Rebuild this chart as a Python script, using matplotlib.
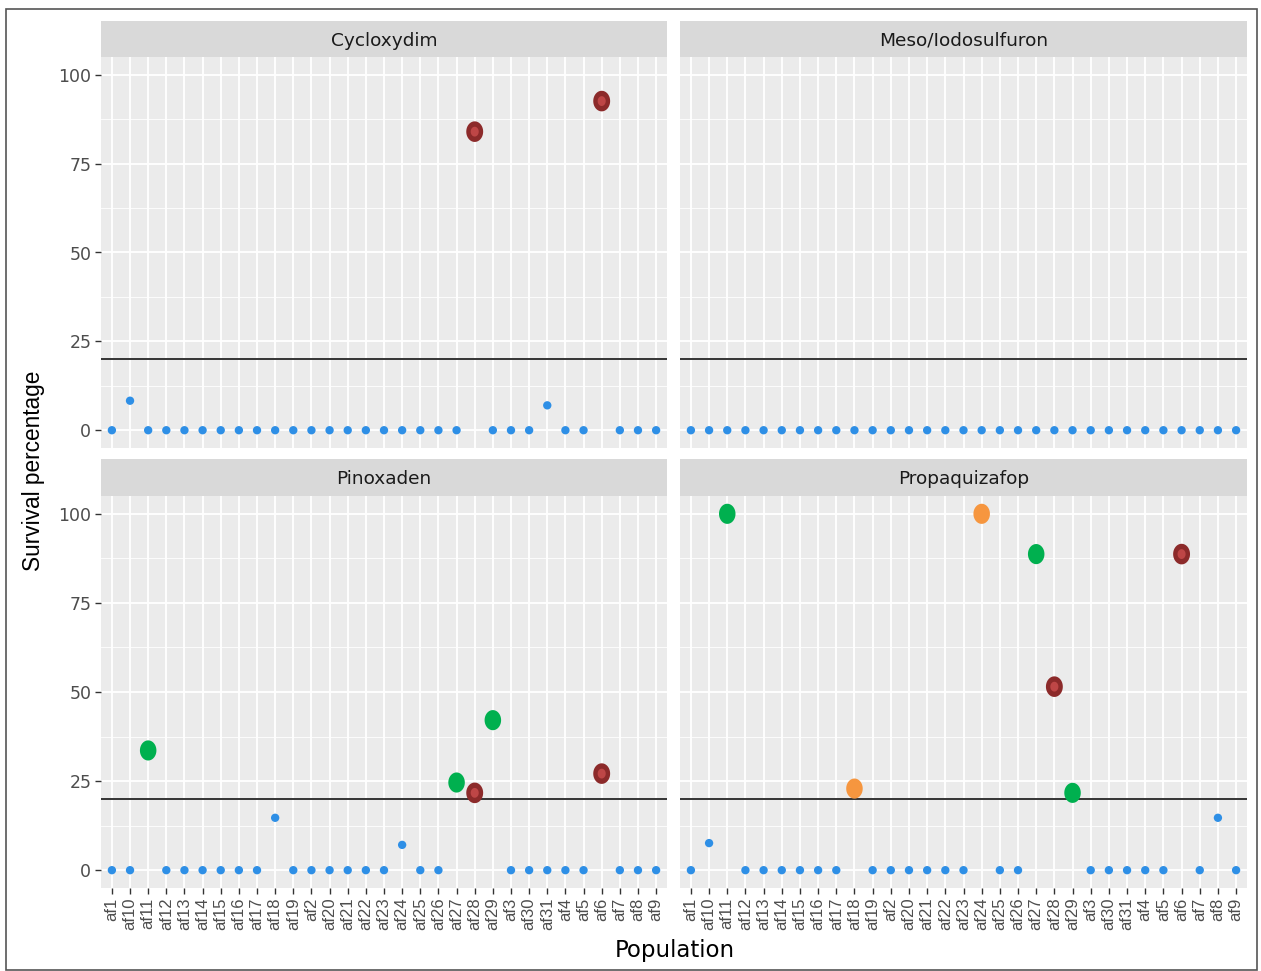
import numpy as np
import matplotlib
matplotlib.use("Agg")
import matplotlib.pyplot as plt
from matplotlib.path import Path
from matplotlib.patches import Rectangle

plt.rcParams['font.family'] = ['Liberation Sans', 'DejaVu Sans']

pops = ["af1", "af10", "af11", "af12", "af13", "af14", "af15", "af16", "af17", "af18",
        "af19", "af2", "af20", "af21", "af22", "af23", "af24", "af25", "af26", "af27",
        "af28", "af29", "af3", "af30", "af31", "af4", "af5", "af6", "af7", "af8", "af9"]
herbicides = ["Cycloxydim", "Meso/Iodosulfuron", "Pinoxaden", "Propaquizafop"]

# survival (%) per population, same order as pops
cycloxydim = [0, 8.3, 0, 0, 0, 0, 0, 0, 0, 0, 0, 0, 0, 0, 0, 0, 0, 0, 0, 0,
              84, 0, 0, 0, 7, 0, 0, 92.6, 0, 0, 0]
meso_iodo = [0] * 31
pinoxaden = [0, 0, 33.6, 0, 0, 0, 0, 0, 0, 14.7, 0, 0, 0, 0, 0, 0, 7.1, 0, 0, 24.6,
             21.7, 42.1, 0, 0, 0, 0, 0, 27.1, 0, 0, 0]
propaquizafop = [0, 7.6, 100, 0, 0, 0, 0, 0, 0, 22.9, 0, 0, 0, 0, 0, 0, 100, 0, 0, 88.7,
                 51.5, 21.7, 0, 0, 0, 0, 0, 88.7, 0, 14.7, 0]

# point class per population: s = below threshold, g / o / r = resistant groups
cycloxydim_cls = "ssssssssssssssssssssrssssssrsss"
meso_iodo_cls = "sssssssssssssssssssssssssssssss"
pinoxaden_cls = "ssgssssssssssssssssgrgsssssrsss"
propaquizafop_cls = "ssgssssssossssssossgrgsssssrsss"

values = [cycloxydim, meso_iodo, pinoxaden, propaquizafop]
classes = [cycloxydim_cls, meso_iodo_cls, pinoxaden_cls, propaquizafop_cls]
threshold = 20

# slightly tall ellipse marker like the original
t = np.linspace(0, 2 * np.pi, 60)
ell = Path(np.column_stack([0.82 * np.cos(t), np.sin(t)]), closed=True)

W, H = 1261, 971
fig = plt.figure(figsize=(W / 100, H / 100), dpi=100)
fig.patch.set_facecolor("white")

def fx(px):
    return px / W

def fy(py):
    return 1 - py / H

cols = [(101, 667), (680, 1247)]
rows = [(57, 448, 21), (496, 888, 459)]
x = np.arange(len(pops))

for i, herb in enumerate(herbicides):
    c0, c1 = cols[i % 2]
    r0, r1, s0 = rows[i // 2]
    ax = fig.add_axes([fx(c0), fy(r1), fx(c1 - c0), (r1 - r0) / H])
    ax.set_facecolor("#EBEBEB")
    ax.set_xlim(-0.6, 30.6)
    ax.set_ylim(-5, 105)
    ax.set_yticks([0, 25, 50, 75, 100])
    ax.set_yticks([12.5, 37.5, 62.5, 87.5], minor=True)
    ax.set_xticks(x)
    ax.grid(True, which="major", color="white", linewidth=1.3)
    ax.grid(True, which="minor", axis="y", color="white", linewidth=0.6)
    ax.set_axisbelow(True)
    for s in ax.spines.values():
        s.set_visible(False)
    ax.tick_params(which="major", length=4, width=1, color="#333333",
                   labelcolor="#4D4D4D", pad=3)
    ax.tick_params(which="minor", length=0)
    if i % 2 == 0:
        ax.set_yticklabels(["0", "25", "50", "75", "100"], family="DejaVu Sans", fontsize=12.5)
    else:
        ax.tick_params(axis="y", labelleft=False, length=0)
    if i // 2 == 1:
        ax.set_xticklabels(pops, rotation=90, va="top", ha="center", fontsize=12)
    else:
        ax.tick_params(axis="x", labelbottom=False, length=0)

    ax.axhline(threshold, color="#333333", linewidth=1.4, zorder=2)

    v = np.array(values[i], dtype=float)
    cl = np.array(list(classes[i]))
    m = cl == "s"
    ax.scatter(x[m], v[m], s=36, color="#2E8FE6", edgecolors="none", zorder=3)
    m = cl == "g"
    ax.scatter(x[m], v[m], s=210, marker=ell, color="#00B04F", edgecolors="none", zorder=3)
    m = cl == "o"
    ax.scatter(x[m], v[m], s=210, marker=ell, color="#F6963F", edgecolors="none", zorder=3)
    m = cl == "r"
    ax.scatter(x[m], v[m], s=220, marker=ell, color="#8C2A2A", edgecolors="none", zorder=3)
    ax.scatter(x[m], v[m], s=50, marker=ell, color="#BE4646", edgecolors="none", zorder=4)

    # facet strip
    sax = fig.add_axes([fx(c0), fy(r0), fx(c1 - c0), (r0 - s0) / H])
    sax.set_facecolor("#D9D9D9")
    sax.set_xticks([])
    sax.set_yticks([])
    for s in sax.spines.values():
        s.set_visible(False)
    sax.text(0.5, 0.45, herb, ha="center", va="center", fontsize=13.3, color="#1A1A1A",
             family="DejaVu Sans", transform=sax.transAxes)

fig.text(fx(675), fy(950), "Population", ha="center", va="center", fontsize=16.5,
         family="DejaVu Sans", color="black")
fig.text(fx(34), fy(471), "Survival percentage", ha="center", va="center", rotation=90,
         fontsize=16.3, color="black")

fig.add_artist(Rectangle((fx(5.5), fy(970)), fx(1251.5), fy(9.5) - fy(970),
                         transform=fig.transFigure, fill=False, edgecolor="#555555",
                         linewidth=1.2))

fig.savefig("out.png", dpi=100)
